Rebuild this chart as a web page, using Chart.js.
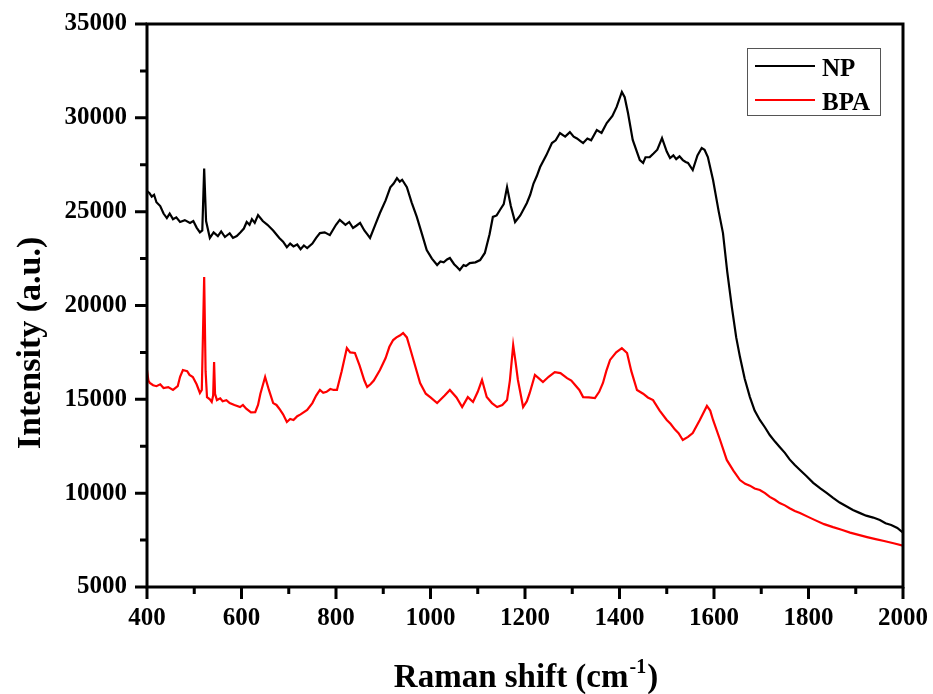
<!DOCTYPE html>
<html lang="en">
<head>
    <meta charset="UTF-8">
    <title>Raman spectra - NP / BPA</title>
    <script src="https://cdn.jsdelivr.net/npm/chart.js@4"></script>
    <style>
        html, body { margin: 0; padding: 0; background: #fff; }
        #wrap { width: 933px; height: 694px; }
    </style>
</head>
<body>
    <div id="wrap"><canvas id="ramanChart" width="933" height="694"></canvas></div>
    <script>
    // values
    const npShift = [400, 405, 410, 415, 420, 428, 435, 442, 448, 455, 462, 470, 480, 491, 498, 505, 512, 517, 521, 525, 533, 541, 550, 557, 565, 575, 582, 590, 598, 605, 611, 617, 622, 628, 635, 645, 655, 667, 680, 688, 696, 703, 710, 718, 725, 732, 739, 750, 758, 766, 776, 787, 800, 808, 820, 828, 836, 843, 851, 860, 866, 872, 883, 893, 905, 915, 922, 929, 935, 940, 950, 960, 971, 982, 992, 1003, 1014, 1021, 1028, 1035, 1041, 1050, 1056, 1062, 1070, 1075, 1083, 1095, 1105, 1115, 1125, 1132, 1140, 1147, 1155, 1162, 1170, 1179, 1190, 1204, 1211, 1218, 1225, 1232, 1245, 1257, 1265, 1274, 1285, 1295, 1303, 1310, 1318, 1323, 1332, 1340, 1352, 1362, 1373, 1385, 1394, 1405, 1411, 1418, 1428, 1443, 1450, 1455, 1464, 1472, 1480, 1490, 1500, 1507, 1514, 1520, 1527, 1534, 1540, 1545, 1555, 1565, 1574, 1580, 1587, 1598, 1610, 1619, 1628, 1638, 1647, 1655, 1665, 1676, 1686, 1697, 1708, 1718, 1729, 1739, 1750, 1760, 1771, 1782, 1796, 1810, 1825, 1839, 1852, 1866, 1880, 1894, 1908, 1922, 1937, 1951, 1963, 1975, 1988, 2000];
    const npIntensity = [26100, 26000, 25800, 25900, 25500, 25300, 24900, 24660, 24900, 24600, 24700, 24450, 24550, 24400, 24500, 24150, 23900, 24000, 27300, 24500, 23600, 23900, 23700, 23950, 23650, 23850, 23600, 23700, 23900, 24100, 24450, 24300, 24600, 24400, 24820, 24500, 24300, 24000, 23600, 23400, 23110, 23300, 23150, 23250, 23000, 23200, 23060, 23300, 23600, 23860, 23900, 23750, 24300, 24560, 24300, 24450, 24130, 24250, 24400, 24000, 23800, 23600, 24300, 24930, 25600, 26300, 26500, 26790, 26600, 26700, 26300, 25500, 24720, 23800, 22960, 22500, 22160, 22350, 22300, 22450, 22530, 22200, 22050, 21890, 22150, 22100, 22260, 22300, 22420, 22800, 23800, 24720, 24800, 25090, 25400, 26310, 25300, 24450, 24800, 25460, 25900, 26500, 26900, 27380, 28000, 28660, 28800, 29190, 29000, 29240, 29000, 28900, 28750, 28660, 28900, 28800, 29350, 29200, 29720, 30100, 30580, 31380, 31100, 30260, 28820, 27750, 27600, 27900, 27910, 28100, 28300, 28920, 28200, 27860, 28000, 27800, 27950, 27750, 27650, 27600, 27220, 28000, 28390, 28300, 27910, 26690, 25000, 23860, 21800, 19870, 18300, 17250, 16100, 15120, 14400, 13900, 13500, 13100, 12750, 12460, 12150, 11800, 11500, 11230, 10900, 10550, 10250, 10000, 9750, 9500, 9300, 9100, 8950, 8800, 8700, 8570, 8400, 8300, 8150, 7900];

    const bpaShift = [400, 403, 406, 413, 420, 428, 435, 445, 455, 465, 470, 476, 485, 490, 497, 505, 512, 516, 521, 524, 527, 533, 537, 540, 542, 544, 548, 555, 560, 568, 575, 585, 597, 603, 610, 620, 629, 635, 640, 650, 658, 667, 674, 680, 688, 696, 703, 710, 718, 725, 739, 750, 758, 766, 773, 780, 788, 795, 802, 812, 823, 830, 840, 850, 860, 866, 873, 880, 893, 905, 913, 921, 928, 935, 942, 950, 956, 965, 978, 990, 1000, 1014, 1022, 1030, 1041, 1055, 1067, 1079, 1090, 1100, 1109, 1119, 1130, 1141, 1152, 1162, 1168, 1175, 1180, 1185, 1196, 1204, 1210, 1221, 1230, 1238, 1250, 1263, 1275, 1289, 1298, 1306, 1315, 1323, 1335, 1348, 1357, 1365, 1372, 1380, 1393, 1405, 1416, 1425, 1437, 1450, 1460, 1471, 1485, 1500, 1508, 1517, 1525, 1534, 1545, 1555, 1570, 1585, 1592, 1598, 1612, 1627, 1641, 1655, 1666, 1676, 1686, 1697, 1708, 1718, 1729, 1739, 1750, 1760, 1771, 1782, 1798, 1815, 1833, 1852, 1870, 1888, 1906, 1924, 1942, 1960, 1980, 2000];
    const bpaIntensity = [16560, 16000, 15870, 15750, 15700, 15800, 15600, 15650, 15500, 15700, 16200, 16560, 16500, 16300, 16190, 15800, 15340, 15500, 21520, 16500, 15120, 15000, 14860, 15200, 16990, 15300, 14960, 15050, 14900, 14950, 14800, 14700, 14590, 14700, 14500, 14300, 14320, 14700, 15300, 16190, 15500, 14800, 14700, 14500, 14200, 13790, 13950, 13900, 14100, 14200, 14430, 14800, 15200, 15500, 15350, 15400, 15550, 15500, 15500, 16500, 17730, 17500, 17470, 16800, 16000, 15660, 15800, 16000, 16560, 17200, 17800, 18160, 18300, 18400, 18530, 18300, 17790, 17000, 15870, 15300, 15100, 14800, 15000, 15200, 15500, 15100, 14590, 15120, 14860, 15400, 16030, 15120, 14800, 14590, 14700, 14960, 16000, 17890, 17000, 16030, 14590, 14900, 15340, 16300, 16100, 15920, 16200, 16450, 16400, 16130, 16000, 15760, 15500, 15120, 15100, 15070, 15400, 15870, 16500, 17100, 17500, 17730, 17470, 16500, 15500, 15300, 15100, 14960, 14400, 13900, 13700, 13400, 13200, 12830, 13000, 13200, 13900, 14650, 14400, 13900, 12900, 11770, 11200, 10700, 10500, 10400, 10250, 10170, 10000, 9800, 9650, 9470, 9350, 9200, 9050, 8940, 8750, 8550, 8350, 8190, 8050, 7900, 7780, 7660, 7550, 7450, 7330, 7200];

    const xMajorTicks = [400, 600, 800, 1000, 1200, 1400, 1600, 1800, 2000];
    const xMinorTicks = [500, 700, 900, 1100, 1300, 1500, 1700, 1900];
    const yMajorTicks = [5000, 10000, 15000, 20000, 25000, 30000, 35000];
    const yMinorTicks = [7500, 12500, 17500, 22500, 27500, 32500];

    const serif = "'Liberation Serif', 'Times New Roman', serif";

    function toPoints(xs, ys) {
        return xs.map((x, i) => ({ x: x, y: ys[i] }));
    }

    // frame, tick marks, titles and legend box
    const decorPlugin = {
        id: 'decor',
        afterDraw(chart) {
            const ctx = chart.ctx;
            const a = chart.chartArea;
            const xs = chart.scales.x, ys = chart.scales.y;
            ctx.save();
            ctx.strokeStyle = '#000';
            ctx.lineWidth = 3;
            ctx.lineCap = 'butt';
            ctx.strokeRect(a.left, a.top, a.right - a.left, a.bottom - a.top);

            ctx.beginPath();
            xMajorTicks.forEach(v => { const p = xs.getPixelForValue(v); ctx.moveTo(p, a.bottom); ctx.lineTo(p, a.bottom + 12); });
            xMinorTicks.forEach(v => { const p = xs.getPixelForValue(v); ctx.moveTo(p, a.bottom); ctx.lineTo(p, a.bottom + 7); });
            yMajorTicks.forEach(v => { const p = ys.getPixelForValue(v); ctx.moveTo(a.left, p); ctx.lineTo(a.left - 12, p); });
            yMinorTicks.forEach(v => { const p = ys.getPixelForValue(v); ctx.moveTo(a.left, p); ctx.lineTo(a.left - 7, p); });
            ctx.stroke();

            // x title with superscript
            ctx.fillStyle = '#000';
            ctx.textBaseline = 'alphabetic';
            ctx.textAlign = 'left';
            const main = 'Raman shift (cm', sup = '-1', close = ')';
            ctx.font = 'bold 33px ' + serif;
            const w1 = ctx.measureText(main).width, w3 = ctx.measureText(close).width;
            ctx.font = 'bold 20px ' + serif;
            const w2 = ctx.measureText(sup).width;
            let x0 = (a.left + a.right) / 2 - (w1 + w2 + w3) / 2;
            const base = 687;
            ctx.font = 'bold 33px ' + serif;
            ctx.fillText(main, x0, base);
            ctx.font = 'bold 20px ' + serif;
            ctx.fillText(sup, x0 + w1 + 1, base - 14);
            ctx.font = 'bold 33px ' + serif;
            ctx.fillText(close, x0 + w1 + w2 + 2, base);

            // y title
            ctx.save();
            ctx.translate(40, 343);
            ctx.rotate(-Math.PI / 2);
            ctx.textAlign = 'center';
            ctx.font = 'bold 34px ' + serif;
            ctx.fillText('Intensity (a.u.)', 0, 0);
            ctx.restore();

            // legend
            ctx.lineWidth = 1;
            ctx.strokeStyle = '#555';
            ctx.strokeRect(747.5, 48.5, 133, 67);
            const rows = [66, 100];
            chart.data.datasets.forEach((ds, i) => {
                ctx.strokeStyle = ds.borderColor;
                ctx.lineWidth = 2;
                ctx.beginPath();
                ctx.moveTo(755, rows[i]);
                ctx.lineTo(815, rows[i]);
                ctx.stroke();
                ctx.fillStyle = '#000';
                ctx.font = 'bold 25px ' + serif;
                ctx.textAlign = 'left';
                ctx.fillText(ds.label, 822, rows[i] + 10);
            });
            ctx.restore();
        }
    };

    new Chart(document.getElementById('ramanChart'), {
        type: 'line',
        data: {
            datasets: [
                { label: 'NP', data: toPoints(npShift, npIntensity), borderColor: '#000000', borderWidth: 2.2, pointRadius: 0, tension: 0, fill: false },
                { label: 'BPA', data: toPoints(bpaShift, bpaIntensity), borderColor: '#ff0000', borderWidth: 2.2, pointRadius: 0, tension: 0, fill: false }
            ]
        },
        options: {
            responsive: false,
            animation: false,
            layout: { padding: { top: 24, right: 30, left: 0, bottom: 0 } },
            plugins: { legend: { display: false }, tooltip: { enabled: false } },
            scales: {
                x: {
                    type: 'linear', min: 400, max: 2000,
                    grid: { display: false, drawTicks: false },
                    border: { display: false },
                    ticks: { stepSize: 200, padding: 17, color: '#000', font: { family: serif, size: 25, weight: 'bold' }, callback: v => String(v) },
                    afterFit(s) { s.height = 107; s.paddingLeft = 0; s.paddingRight = 0; }
                },
                y: {
                    min: 5000, max: 35000,
                    grid: { display: false, drawTicks: false },
                    border: { display: false },
                    ticks: { stepSize: 5000, padding: 20, color: '#000', font: { family: serif, size: 25, weight: 'bold' }, callback: v => String(v) },
                    afterFit(s) { s.width = 147; s.paddingTop = 0; s.paddingBottom = 0; }
                }
            }
        },
        plugins: [decorPlugin]
    });
    </script>
</body>
</html>
